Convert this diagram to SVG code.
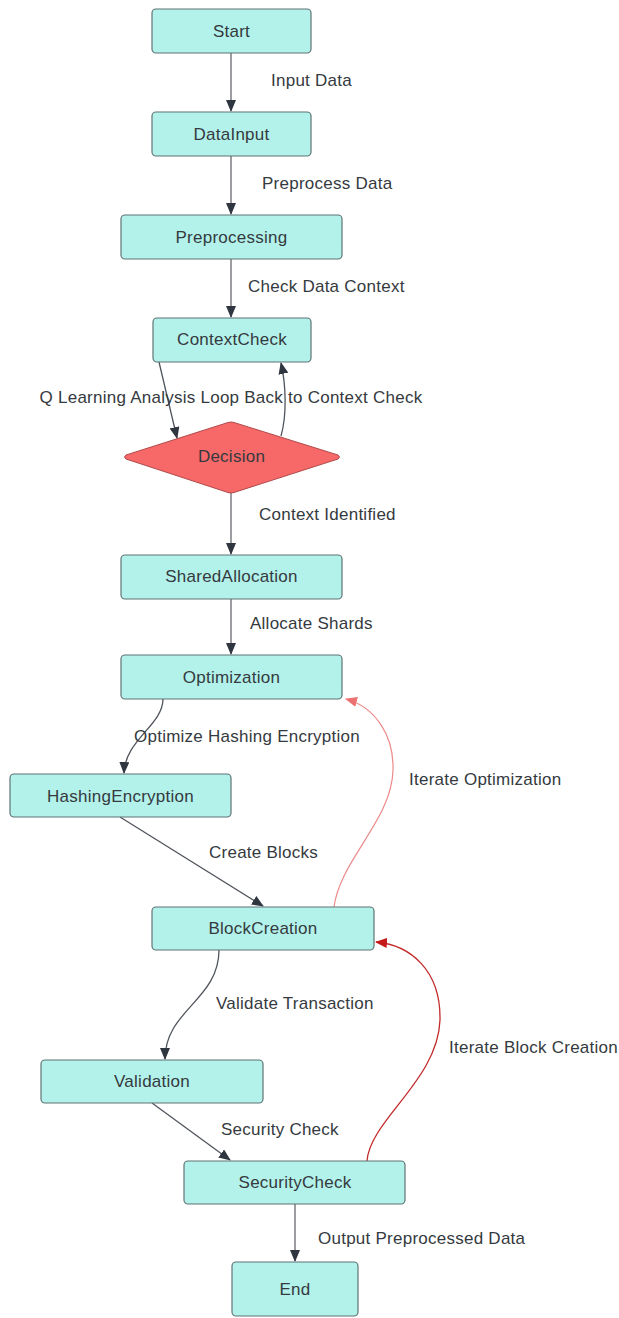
<svg xmlns="http://www.w3.org/2000/svg" width="619" height="1318" viewBox="0 0 619 1318">
<defs>
<style>
.node rect{fill:#b3f2ea;stroke:#5f7374;stroke-width:1.2}
.dec{fill:#f76868;stroke:#b04a4a;stroke-width:1}
text{font-family:"Liberation Sans",Arial,sans-serif;font-size:17px;fill:#353a40;letter-spacing:0.25px}
.nt{text-anchor:middle}
.c{fill:none;stroke:#50555c;stroke-width:1.3}
.cs{fill:none;stroke:#7a7d82;stroke-width:1.5}
.r1{fill:none;stroke:#ec8a8a;stroke-width:1.2}
.r2{fill:none;stroke:#c22a2a;stroke-width:1.3}
</style>
<marker id="ah" viewBox="0 0 12 10" refX="11" refY="5" markerWidth="12" markerHeight="10" markerUnits="userSpaceOnUse" orient="auto"><path d="M0,0 L12,5 L0,10 Z" fill="#2f3640"/></marker>
<marker id="ahp" viewBox="0 0 12 10" refX="11" refY="5" markerWidth="12" markerHeight="10" markerUnits="userSpaceOnUse" orient="auto"><path d="M0,0 L12,5 L0,10 Z" fill="#ec7272"/></marker>
<marker id="ahr" viewBox="0 0 12 10" refX="11" refY="5" markerWidth="12" markerHeight="10" markerUnits="userSpaceOnUse" orient="auto"><path d="M0,0 L12,5 L0,10 Z" fill="#c41a1a"/></marker>
</defs>
<rect width="619" height="1318" fill="#ffffff"/>
<g id="connectors">
<path class="cs" d="M231 53 L231 111" marker-end="url(#ah)"/>
<path class="cs" d="M231 156 L231 214" marker-end="url(#ah)"/>
<path class="cs" d="M231 259 L231 317" marker-end="url(#ah)"/>
<path class="c" d="M159 362 L177 438" marker-end="url(#ah)"/>
<path class="c" d="M281 436 C287 415 286 385 281 363" marker-end="url(#ah)"/>
<path class="cs" d="M231 493 L231 554" marker-end="url(#ah)"/>
<path class="cs" d="M231 599 L231 654" marker-end="url(#ah)"/>
<path class="c" d="M163 699 C163 725 125 740 124 773" marker-end="url(#ah)"/>
<path class="c" d="M120 817 L263 906" marker-end="url(#ah)"/>
<path class="r1" d="M334 907 C340 860 392 820 393 770 C394 735 375 707 346 699" marker-end="url(#ahp)"/>
<path class="c" d="M219 950 C219 1000 165 1010 165 1059" marker-end="url(#ah)"/>
<path class="c" d="M152 1103 L230 1160" marker-end="url(#ah)"/>
<path class="r2" d="M367 1161 C370 1120 438 1080 440 1020 C441 970 410 945 376 942" marker-end="url(#ahr)"/>
<path class="cs" d="M295 1204 L295 1261" marker-end="url(#ah)"/>
<text x="271" y="86">Input Data</text>
<text x="262" y="189">Preprocess Data</text>
<text x="248" y="292">Check Data Context</text>
<text x="231" y="403" class="nt">Q Learning Analysis Loop Back to Context Check</text>
<text x="259" y="520">Context Identified</text>
<text x="250" y="629">Allocate Shards</text>
<text x="134" y="742">Optimize Hashing Encryption</text>
<text x="409" y="785">Iterate Optimization</text>
<text x="209" y="858">Create Blocks</text>
<text x="216" y="1009">Validate Transaction</text>
<text x="449" y="1053">Iterate Block Creation</text>
<text x="221" y="1135">Security Check</text>
<text x="318" y="1244">Output Preprocessed Data</text>
</g>
<g id="start" class="node"><rect x="152" y="9" width="159" height="44" rx="4"/><text x="231.5" y="37" class="nt">Start</text></g>
<g id="datainput" class="node"><rect x="152" y="112" width="159" height="44" rx="4"/><text x="231.5" y="140" class="nt">DataInput</text></g>
<g id="preprocessing" class="node"><rect x="121" y="215" width="221" height="44" rx="4"/><text x="231.5" y="243" class="nt">Preprocessing</text></g>
<g id="contextcheck" class="node"><rect x="153" y="318" width="158" height="44" rx="4"/><text x="232" y="345" class="nt">ContextCheck</text></g>
<g id="decision"><path class="dec" d="M234 422.5 L338 455 Q341 457 338 459 L234 492.5 Q231 493.5 228 492.5 L126 459 Q123 457 126 455 L228 422.5 Q231 421.5 234 422.5 Z"/><text x="231.5" y="462" class="nt">Decision</text></g>
<g id="sharedallocation" class="node"><rect x="121" y="555" width="221" height="44" rx="4"/><text x="231.5" y="582" class="nt">SharedAllocation</text></g>
<g id="optimization" class="node"><rect x="121" y="655" width="221" height="44" rx="4"/><text x="231.5" y="683" class="nt">Optimization</text></g>
<g id="hashingencryption" class="node"><rect x="10" y="774" width="221" height="43" rx="4"/><text x="120.5" y="802" class="nt">HashingEncryption</text></g>
<g id="blockcreation" class="node"><rect x="152" y="907" width="222" height="43" rx="4"/><text x="263" y="934" class="nt">BlockCreation</text></g>
<g id="validation" class="node"><rect x="41" y="1060" width="222" height="43" rx="4"/><text x="152" y="1087" class="nt">Validation</text></g>
<g id="securitycheck" class="node"><rect x="184" y="1161" width="221" height="43" rx="4"/><text x="295" y="1188" class="nt">SecurityCheck</text></g>
<g id="end" class="node"><rect x="232" y="1262" width="126" height="54" rx="4"/><text x="295" y="1295" class="nt">End</text></g>
</svg>
